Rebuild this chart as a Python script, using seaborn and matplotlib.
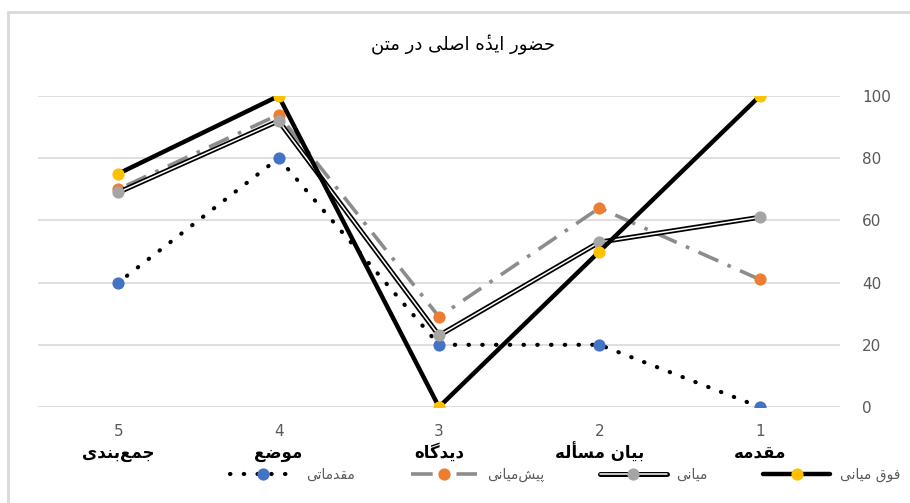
import matplotlib
matplotlib.use('Agg')
import matplotlib.pyplot as plt
from matplotlib.lines import Line2D
from matplotlib.transforms import blended_transform_factory
import pandas as pd
import seaborn as sns

# chart data
positions = [1, 2, 3, 4, 5]
categories = ['مقدمه', 'بیان مسأله', 'دیدگاه', 'موضع', 'جمع‌بندی']
series_names = ['مقدماتی', 'پیش‌میانی', 'میانی', 'فوق میانی']
moghadamati = [0, 20, 20, 80, 40]
pish_miani = [41, 64, 29, 94, 70]
miani = [61, 53, 23, 92, 69]
fogh_miani = [100, 50, 0, 100, 75]
y_ticks = [0, 20, 40, 60, 80, 100]
title = 'حضور ایده\u0654 اصلی در متن'

# matplotlib has no arabic shaping, so pick presentation forms by hand
# (isolated, final, initial, medial)
FORMS = {
    'ا': ('\uFE8D', '\uFE8E', None, None),
    'أ': ('\uFE83', '\uFE84', None, None),
    'ب': ('\uFE8F', '\uFE90', '\uFE91', '\uFE92'),
    'پ': ('\uFB56', '\uFB57', '\uFB58', '\uFB59'),
    'ت': ('\uFE95', '\uFE96', '\uFE97', '\uFE98'),
    'ج': ('\uFE9D', '\uFE9E', '\uFE9F', '\uFEA0'),
    'ح': ('\uFEA1', '\uFEA2', '\uFEA3', '\uFEA4'),
    'د': ('\uFEA9', '\uFEAA', None, None),
    'ر': ('\uFEAD', '\uFEAE', None, None),
    'س': ('\uFEB1', '\uFEB2', '\uFEB3', '\uFEB4'),
    'ش': ('\uFEB5', '\uFEB6', '\uFEB7', '\uFEB8'),
    'ص': ('\uFEB9', '\uFEBA', '\uFEBB', '\uFEBC'),
    'ض': ('\uFEBD', '\uFEBE', '\uFEBF', '\uFEC0'),
    'ع': ('\uFEC9', '\uFECA', '\uFECB', '\uFECC'),
    'ف': ('\uFED1', '\uFED2', '\uFED3', '\uFED4'),
    'ق': ('\uFED5', '\uFED6', '\uFED7', '\uFED8'),
    'گ': ('\uFB92', '\uFB93', '\uFB94', '\uFB95'),
    'ل': ('\uFEDD', '\uFEDE', '\uFEDF', '\uFEE0'),
    'م': ('\uFEE1', '\uFEE2', '\uFEE3', '\uFEE4'),
    'ن': ('\uFEE5', '\uFEE6', '\uFEE7', '\uFEE8'),
    'ه': ('\uFEE9', '\uFEEA', '\uFEEB', '\uFEEC'),
    'و': ('\uFEED', '\uFEEE', None, None),
    'ی': ('\uFBFC', '\uFBFD', '\uFBFE', '\uFBFF'),
}
MARKS = {'\u0654'}


def fa(text):
    clusters = []
    for i, ch in enumerate(text):
        if ch in MARKS:
            clusters[-1] += ch
            continue
        if ch == '\u200c':
            clusters.append('')
            continue
        if ch not in FORMS:
            clusters.append(ch)
            continue
        # neighbours, skipping combining marks
        j = i - 1
        while j >= 0 and text[j] in MARKS:
            j -= 1
        k = i + 1
        while k < len(text) and text[k] in MARKS:
            k += 1
        prev = text[j] if j >= 0 else ''
        nxt = text[k] if k < len(text) else ''
        join_prev = prev in FORMS and FORMS[prev][2] is not None
        join_next = nxt in FORMS and FORMS[ch][2] is not None
        iso, fin, ini, med = FORMS[ch]
        if join_prev and join_next:
            clusters.append(med)
        elif join_prev:
            clusters.append(fin)
        elif join_next:
            clusters.append(ini)
        else:
            clusters.append(iso)
    return ''.join(reversed(clusters))


sns.set_style('white')
plt.rcParams['font.family'] = ['DejaVu Sans']

fig = plt.figure(figsize=(9.1, 5.03), dpi=100)
ax = fig.add_axes([38 / 910, 96 / 503, 802 / 910, 311 / 503])

grey_txt = '#595959'
msize = 8.8

df = pd.DataFrame({'pos': positions, 'a': moghadamati, 'b': pish_miani,
                   'c': miani, 'd': fogh_miani})

# series 1: dotted black, blue markers
sns.lineplot(data=df, x='pos', y='a', ax=ax, color='black', lw=3.0,
             marker='o', markersize=msize, markerfacecolor='#4472C4',
             markeredgewidth=0, label=fa(series_names[0]))
ax.lines[-1].set_dashes((0.1, 3.2))
ax.lines[-1].set_dash_capstyle('round')

# series 2: grey dash-dot, orange markers
sns.lineplot(data=df, x='pos', y='b', ax=ax, color='#8c8c8c', lw=2.6,
             marker='o', markersize=msize, markerfacecolor='#ED7D31',
             markeredgewidth=0, label=fa(series_names[1]))
ax.lines[-1].set_dashes((6, 2.8, 1, 2.8))

# series 3: double line = black wide line under a thin white one
sns.lineplot(data=df, x='pos', y='c', ax=ax, color='black', lw=3.6,
             label='_nolegend_')
outer = ax.lines[-1]
sns.lineplot(data=df, x='pos', y='c', ax=ax, color='white', lw=1.1,
             marker='o', markersize=msize, markerfacecolor='#A5A5A5',
             markeredgewidth=0, label=fa(series_names[2]))
inner = ax.lines[-1]

# series 4: thick black, yellow markers
sns.lineplot(data=df, x='pos', y='d', ax=ax, color='black', lw=3.2,
             marker='o', markersize=msize, markerfacecolor='#FFC000',
             markeredgewidth=0, label=fa(series_names[3]))

ax.set_xlim(5.5, 0.5)
ax.set_ylim(0, 100)
ax.set_yticks(y_ticks)
ax.yaxis.tick_right()
ax.tick_params(axis='y', length=0, pad=16, labelsize=11, labelcolor=grey_txt)
ax.set_xticks([])
ax.set_xlabel('')
ax.set_ylabel('')
ax.grid(axis='y', color='#d9d9d9', lw=1.2)
ax.set_axisbelow(True)
for s in ax.spines.values():
    s.set_visible(False)

trans = blended_transform_factory(ax.transData, ax.transAxes)
for p, name in zip(positions, categories):
    ax.text(p, -0.080, str(p), transform=trans, ha='center', va='center',
            fontsize=11, color=grey_txt)
    ax.text(p, -0.147, fa(name), transform=trans, ha='center', va='center',
            fontsize=12, fontweight='bold', color='black')

handles, labels = ax.get_legend_handles_labels()
ax.get_legend().remove()
handles = [(outer, h) if h is inner else h for h in handles]
fig.legend(handles, labels, loc='center', bbox_to_anchor=(565 / 910, 1 - 475 / 503),
           ncol=4, frameon=False, fontsize=10, labelcolor=grey_txt,
           handlelength=4.8, handletextpad=0.7, columnspacing=4.0)

fig.text(463 / 910, 1 - 45 / 503, fa(title), ha='center', va='center',
         fontsize=13, color='black')

# outer frame (top and left edges of the chart box)
fig.add_artist(Line2D([8 / 910, 8 / 910], [0, 1 - 12 / 503], transform=fig.transFigure,
                      color='#d9d9d9', lw=2))
fig.add_artist(Line2D([8 / 910, 1], [1 - 12 / 503, 1 - 12 / 503], transform=fig.transFigure,
                      color='#d9d9d9', lw=2))

fig.savefig('out.png', dpi=100)
